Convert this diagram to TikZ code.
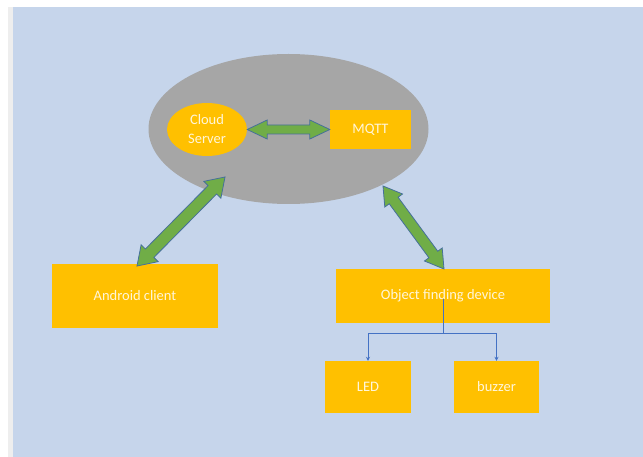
\documentclass[tikz,border=0pt]{standalone}
\usepackage{fontspec}
\setmainfont{Carlito}
\usetikzlibrary{calc,arrows.meta,shapes.geometric}
\definecolor{bg}{HTML}{C6D5EB}
\definecolor{strip}{HTML}{EEEEEE}
\definecolor{cloudgrey}{HTML}{A6A6A6}
\definecolor{gold}{HTML}{FFC000}
\definecolor{txt}{HTML}{FFF6DA}
\definecolor{agreen}{HTML}{70AD47}
\definecolor{aedge}{HTML}{46709A}
\definecolor{conn}{HTML}{4472C4}
\newcommand{\dblarrow}[5]{%
  \coordinate (hA) at ($(#1)!#3!(#2)$);
  \coordinate (hB) at ($(#2)!#3!(#1)$);
  \filldraw[blockarrow] (#1) -- ($(hA)!#4!90:(#2)$) -- ($(hA)!#5!90:(#2)$)
    -- ($(hB)!#5!90:(#2)$) -- ($(hB)!#4!90:(#2)$) -- (#2)
    -- ($(hB)!#4!-90:(#2)$) -- ($(hB)!#5!-90:(#2)$)
    -- ($(hA)!#5!-90:(#2)$) -- ($(hA)!#4!-90:(#2)$) -- cycle;}
\begin{document}
\begin{tikzpicture}[x=1pt,y=-1pt,
  box/.style={rectangle, fill=gold, inner sep=0pt, text=txt,
    font=\fontsize{14.5}{19}\selectfont},
  blockarrow/.style={fill=agreen, draw=aedge, line width=0.8pt, line join=miter},
  connline/.style={draw=conn, line width=0.9pt},
  conntip/.style={-{Stealth[length=4pt,width=4pt]}}]
\useasboundingbox (0,0) rectangle (643,457);
\fill[white] (0,0) rectangle (643,457);
\fill[strip] (8,7) rectangle (13,457);
\fill[bg] (13,7) rectangle (643,457);

\node[ellipse, fill=cloudgrey, inner sep=0pt, minimum width=280pt, minimum height=150pt] (area) at (288.5,129) {};
\node[box, ellipse, minimum width=80pt, minimum height=53pt, align=center] (cloud) at (207,129.5) {Cloud\\Server};
\node[box, minimum width=81pt, minimum height=39pt] (mqtt) at (370.5,129.5) {MQTT};
\node[box, minimum width=166pt, minimum height=64pt] (android) at (135,296) {Android client};
\node[box, minimum width=214pt, minimum height=54pt] (ofd) at (443,296) {Object finding device};
\node[box, minimum width=86pt, minimum height=52pt] (led) at (368,387) {LED};
\node[box, minimum width=85pt, minimum height=52pt] (buzzer) at (496.5,387) {buzzer};

\dblarrow{cloud.east}{mqtt.west}{20pt}{9.5pt}{4.5pt}
\coordinate (aA) at (137,266);
\coordinate (aB) at (225,177);
\dblarrow{aA}{aB}{18pt}{12pt}{6pt}
\coordinate (oA) at (383,186);
\coordinate (oB) at (444,269);
\dblarrow{oA}{oB}{18pt}{11pt}{5.5pt}

\coordinate (s) at (443,299);
\coordinate (j) at (443,333);
\draw[connline] (s) -- (j);
\draw[connline, conntip] (j) -| (led.north);
\draw[connline, conntip] (j) -| (buzzer.north);
\end{tikzpicture}
\end{document}
